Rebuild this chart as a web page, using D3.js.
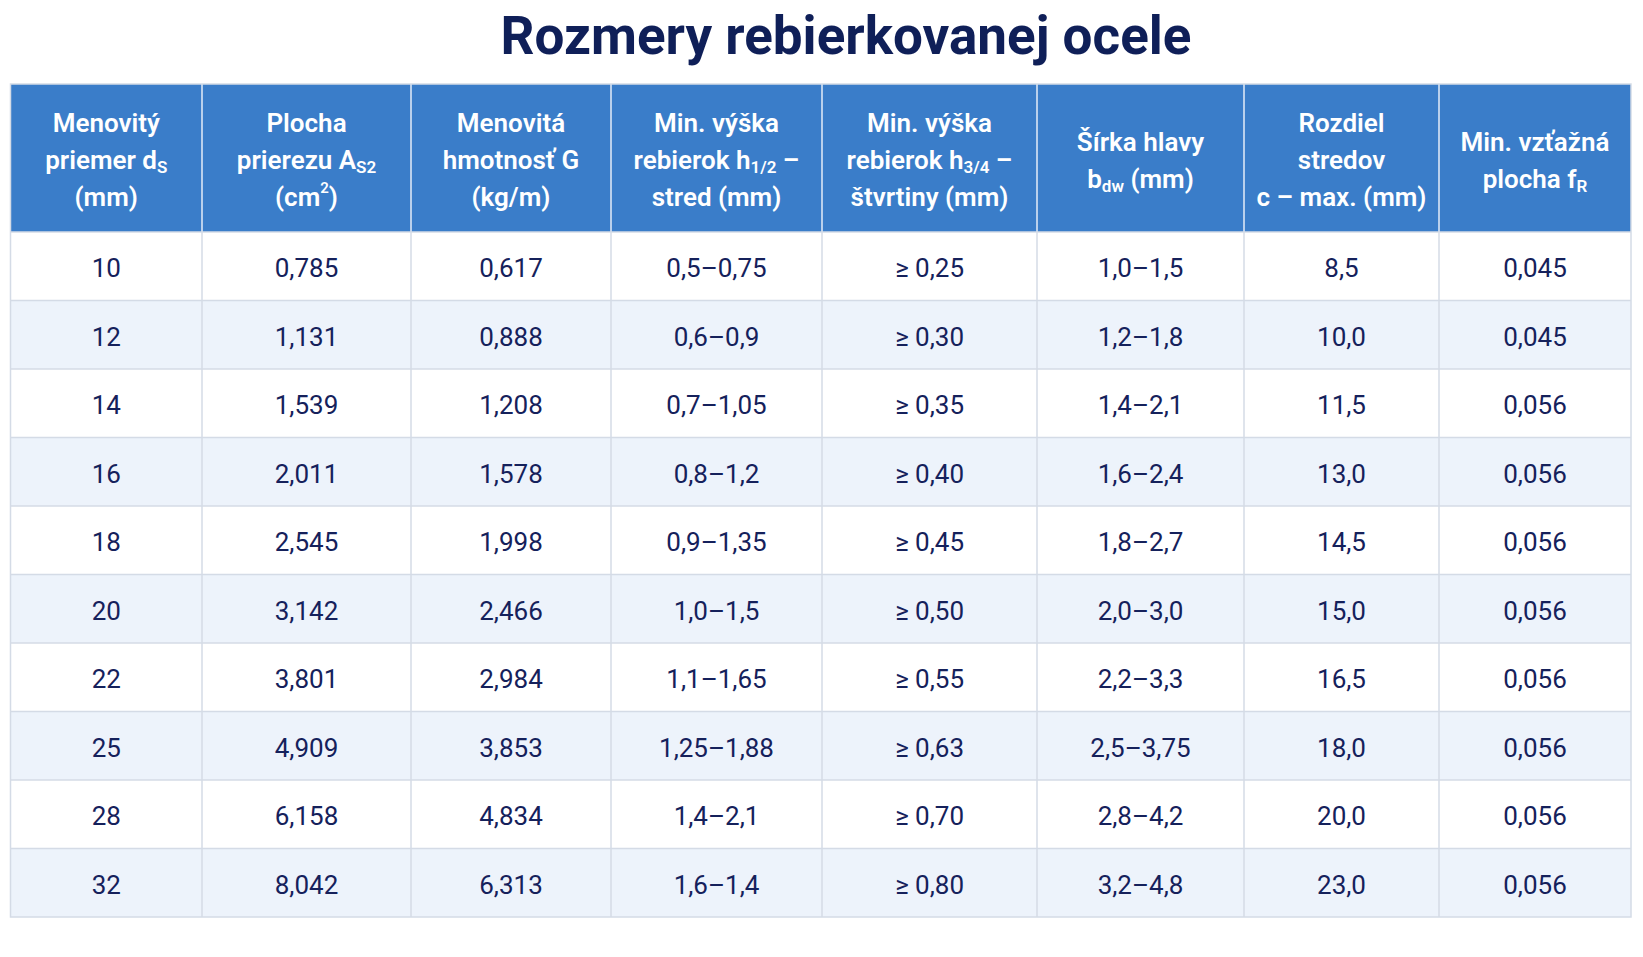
<!DOCTYPE html>
<html>
<head>
<meta charset="utf-8">
<script src="https://cdn.jsdelivr.net/npm/d3@7"></script>
<style>
  html, body { margin: 0; padding: 0; background: #ffffff; }
  svg { display: block; font-family: Roboto, "Noto Sans", sans-serif; }
</style>
</head>
<body>
<script>
// table contents
var title = "Rozmery rebierkovanej ocele";

// header lines, _{..} = subscript, ^{..} = superscript
var headers = [
  ["Menovitý", "priemer d_{S}", "(mm)"],
  ["Plocha", "prierezu A_{S2}", "(cm^{2})"],
  ["Menovitá", "hmotnosť G", "(kg/m)"],
  ["Min. výška", "rebierok h_{1/2} –", "stred (mm)"],
  ["Min. výška", "rebierok h_{3/4} –", "štvrtiny (mm)"],
  ["Šírka hlavy", "b_{dw} (mm)"],
  ["Rozdiel", "stredov", "c – max. (mm)"],
  ["Min. vzťažná", "plocha f_{R}"]
];

var diameters = [10, 12, 14, 16, 18, 20, 22, 25, 28, 32];
var areas = [0.785, 1.131, 1.539, 2.011, 2.545, 3.142, 3.801, 4.909, 6.158, 8.042];
var masses = [0.617, 0.888, 1.208, 1.578, 1.998, 2.466, 2.984, 3.853, 4.834, 6.313];
var ribMid = ["0,5–0,75", "0,6–0,9", "0,7–1,05", "0,8–1,2", "0,9–1,35", "1,0–1,5", "1,1–1,65", "1,25–1,88", "1,4–2,1", "1,6–1,4"];
var ribQuarter = [0.25, 0.30, 0.35, 0.40, 0.45, 0.50, 0.55, 0.63, 0.70, 0.80];
var headWidth = ["1,0–1,5", "1,2–1,8", "1,4–2,1", "1,6–2,4", "1,8–2,7", "2,0–3,0", "2,2–3,3", "2,5–3,75", "2,8–4,2", "3,2–4,8"];
var spacing = [8.5, 10.0, 11.5, 13.0, 14.5, 15.0, 16.5, 18.0, 20.0, 23.0];
var ribArea = [0.045, 0.045, 0.056, 0.056, 0.056, 0.056, 0.056, 0.056, 0.056, 0.056];

// slovak number format, decimal comma
var sk = d3.formatLocale({decimal: ",", thousands: " ", grouping: [3], currency: ["", " €"]});
var f1 = sk.format(".1f"), f2 = sk.format(".2f"), f3 = sk.format(".3f");

var rows = diameters.map(function(d, i) {
  return [String(d), f3(areas[i]), f3(masses[i]), ribMid[i], "≥ " + f2(ribQuarter[i]),
          headWidth[i], f1(spacing[i]), f3(ribArea[i])];
});

// layout
var W = 1643, H = 957;
var tableLeft = 10.5, tableTop = 84, headerBottom = 232, tableBottom = 917;
var colWidths = [191.5, 209, 200, 211, 215, 207, 195, 192]; // relative widths of columns
var colEdges = [0];
colWidths.forEach(function(w) { colEdges.push(colEdges[colEdges.length - 1] + w); });
var tableRight = 1631;
var x = d3.scaleLinear().domain([0, colEdges[colEdges.length - 1]]).range([tableLeft, tableRight]);

var y = d3.scaleBand()
  .domain(d3.range(rows.length))
  .range([headerBottom, tableBottom]);

var svg = d3.select("body").append("svg")
  .attr("width", W).attr("height", H);

// title
svg.append("text")
  .attr("x", 846).attr("y", 54)
  .attr("text-anchor", "middle")
  .style("font-size", "53px").style("font-weight", 700)
  .style("fill", "#0f1f58")
  .text(title);

// header background
svg.append("rect")
  .attr("x", tableLeft).attr("y", tableTop)
  .attr("width", tableRight - tableLeft).attr("height", headerBottom - tableTop)
  .style("fill", "#3a7dc9");

// body rows, striped
svg.append("g").selectAll("rect")
  .data(rows)
  .enter().append("rect")
  .attr("x", tableLeft)
  .attr("y", function(d, i) { return y(i); })
  .attr("width", tableRight - tableLeft)
  .attr("height", y.bandwidth())
  .style("fill", function(d, i) { return i % 2 ? "#edf3fb" : "#ffffff"; });

// grid lines
var grid = svg.append("g").style("stroke", "#d4dbe6").style("stroke-width", 1.5);
grid.selectAll("line.h")
  .data(d3.range(1, rows.length))
  .enter().append("line")
  .attr("x1", tableLeft).attr("x2", tableRight)
  .attr("y1", function(i) { return y(i); })
  .attr("y2", function(i) { return y(i); });
grid.selectAll("line.v")
  .data(colEdges.slice(1, -1))
  .enter().append("line")
  .attr("x1", function(e) { return x(e); }).attr("x2", function(e) { return x(e); })
  .attr("y1", headerBottom).attr("y2", tableBottom);

// header separators are white
svg.append("g").selectAll("line")
  .data(colEdges.slice(1, -1))
  .enter().append("line")
  .attr("x1", function(e) { return x(e); }).attr("x2", function(e) { return x(e); })
  .attr("y1", tableTop).attr("y2", headerBottom)
  .style("stroke", "#e4ecf7").style("stroke-width", 1.5);

// outer border
svg.append("rect")
  .attr("x", tableLeft).attr("y", tableTop)
  .attr("width", tableRight - tableLeft).attr("height", tableBottom - tableTop)
  .style("fill", "none").style("stroke", "#d4dbe6").style("stroke-width", 1.5);
svg.append("line")
  .attr("x1", tableLeft).attr("x2", tableRight)
  .attr("y1", headerBottom).attr("y2", headerBottom)
  .style("stroke", "#d4dbe6").style("stroke-width", 1.5);

// split a header line into plain / sub / sup pieces
function pieces(s) {
  var out = [], re = /([_^])\{([^}]*)\}/g, last = 0, m;
  while ((m = re.exec(s)) !== null) {
    if (m.index > last) out.push({t: s.slice(last, m.index), k: ""});
    out.push({t: m[2], k: m[1] === "_" ? "sub" : "sup"});
    last = re.lastIndex;
  }
  if (last < s.length) out.push({t: s.slice(last), k: ""});
  return out;
}

var lineGap = 37;
var headG = svg.append("g")
  .style("fill", "#ffffff").style("font-size", "26px").style("font-weight", 600);

headers.forEach(function(lines, c) {
  var cx = x((colEdges[c] + colEdges[c + 1]) / 2);
  var cy = (tableTop + headerBottom) / 2 + 2;
  var y0 = cy - (lines.length - 1) * lineGap / 2;
  lines.forEach(function(line, li) {
    var t = headG.append("text")
      .attr("x", cx).attr("y", y0 + li * lineGap)
      .attr("text-anchor", "middle")
      .attr("dominant-baseline", "central");
    var shift = 0; // current baseline shift, undone on the next piece
    pieces(line).forEach(function(p) {
      var ts = t.append("tspan").text(p.t);
      var want = p.k === "sub" ? 7 : p.k === "sup" ? -9 : 0;
      if (want !== shift) ts.attr("dy", want - shift);
      shift = want;
      if (p.k === "sub") ts.style("font-size", "17px");
      if (p.k === "sup") ts.style("font-size", "15px");
    });
  });
});

// body cells
var body = svg.append("g")
  .style("fill", "#15215b").style("font-size", "26px");
rows.forEach(function(r, i) {
  body.selectAll(null)
    .data(r)
    .enter().append("text")
    .attr("x", function(d, c) { return x((colEdges[c] + colEdges[c + 1]) / 2); })
    .attr("y", y(i) + y.bandwidth() / 2 + 2)
    .attr("text-anchor", "middle")
    .attr("dominant-baseline", "central")
    .text(function(d) { return d; });
});
</script>
</body>
</html>
